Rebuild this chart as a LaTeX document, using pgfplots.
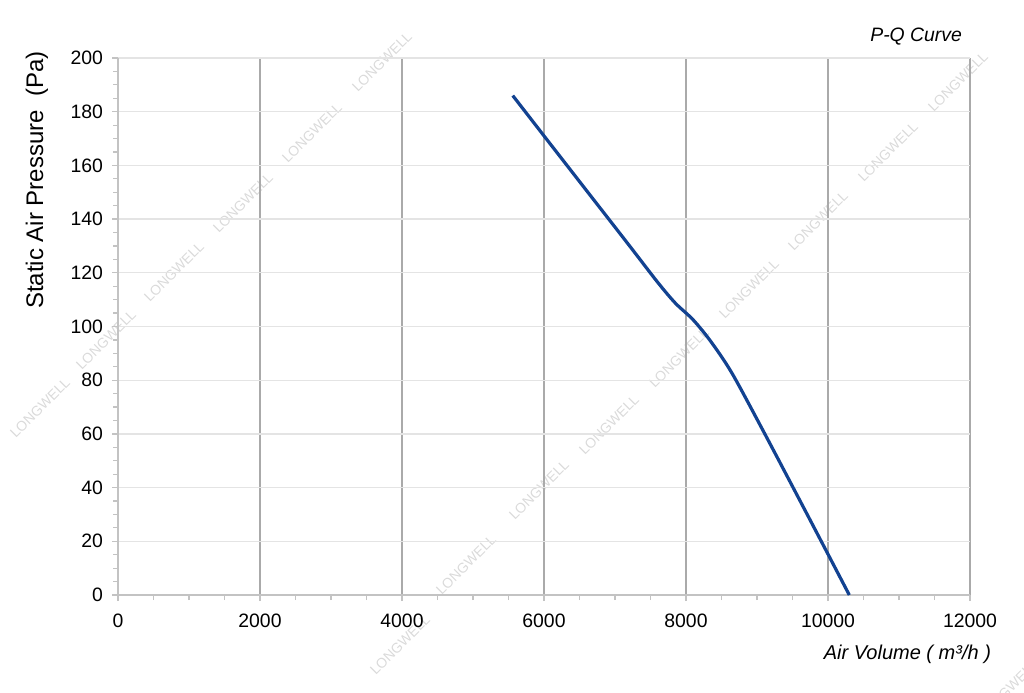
\documentclass[border=0pt]{standalone}
\usepackage{fontspec}
\setmainfont{Liberation Sans}
\usepackage{pgfplots}
\pgfplotsset{compat=1.18}
\definecolor{curveblue}{RGB}{18,66,145}
\definecolor{vgrid}{RGB}{170,170,170}
\definecolor{hgrid}{RGB}{228,228,228}
\definecolor{axgray}{RGB}{195,195,195}
\definecolor{wm}{RGB}{218,218,218}
\begin{document}
\begin{tikzpicture}
\useasboundingbox (0,0) rectangle (512pt,346pt);
% watermark
\foreach \a/\b in {40/408,106/340,174/272,243/203,312/133,382/62,
  400/645,466/565,539/490,609/425,679/358,749/289,818/221,888/152,958/82,1008/690}{
  \node[rotate=45, text=wm, font=\fontsize{7}{7}\selectfont, inner sep=0pt] at ({\a*0.5pt},{(692-\b)*0.5pt}) {LONGWELL};
}
\begin{axis}[
  at={(59pt,48.5pt)}, anchor=south west,
  scale only axis, width=426pt, height=268.5pt,
  xmin=0, xmax=12000, ymin=0, ymax=200,
  xtick={0,2000,...,12000}, ytick={0,20,...,200},
  scaled x ticks=false, scaled y ticks=false,
  minor x tick num=3, minor y tick num=3,
  xmajorgrids, ymajorgrids,
  x grid style={vgrid, line width=0.6pt},
  y grid style={hgrid, line width=0.6pt},
  axis x line*=bottom, axis y line*=left,
  axis line style={axgray, line width=0.6pt, -},
  tick style={axgray, line width=0.6pt},
  tick align=outside,
  major tick length=3pt, minor tick length=2.5pt,
  xtick pos=bottom, ytick pos=left,
  ticklabel style={font=\fontsize{9.7}{11}\selectfont},
  xticklabel style={yshift=-3pt},
  yticklabel style={xshift=-1pt},
  /pgf/number format/assume math mode=true,
  /pgf/number format/1000 sep={},
]
\addplot[curveblue, line width=1.6pt, smooth, tension=0.5] coordinates {
  (5560,186) (6000,171) (6600,150.6) (7200,130.2) (7600,116.5) (7850,108.7)
  (8100,102.5) (8350,94.4) (8650,82.5) (9100,60.5) (9600,35.4) (10000,15.2) (10300,0)
};
\end{axis}
\node[anchor=east, font=\itshape\fontsize{9.7}{11}\selectfont] at (484.5pt,327.5pt) {P-Q Curve};
\node[anchor=east, font=\itshape\fontsize{10}{12}\selectfont] at (499pt,19pt) {Air Volume ( m³/h )};
\node[rotate=90, font=\fontsize{12}{14}\selectfont] at (18.5pt,256pt) {Static Air Pressure\ \ (Pa)};
\end{tikzpicture}
\end{document}
